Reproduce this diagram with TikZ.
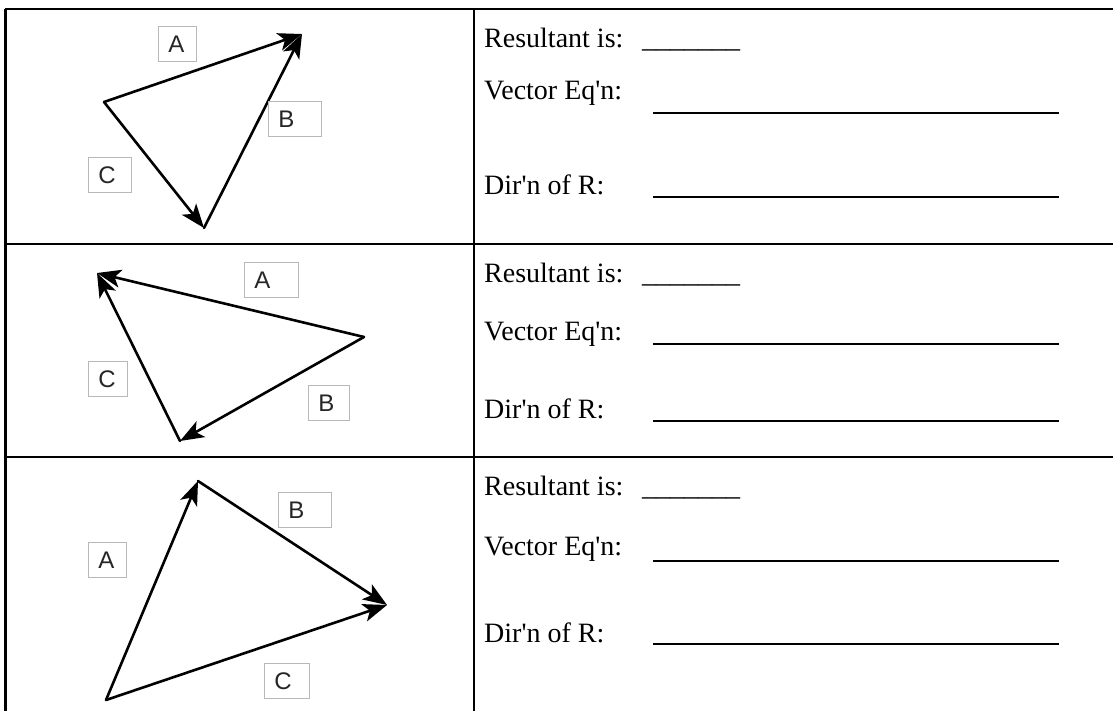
\documentclass[tikz,border=0pt]{standalone}
\usepackage{fontspec}
\newfontfamily\txtfont{Liberation Serif}
\newfontfamily\lblfont{Liberation Sans}
\usetikzlibrary{arrows.meta}
\begin{document}
\begin{tikzpicture}[x=1pt,y=-1pt,
  grid/.style={line width=2.2pt,black},
  vec/.style={line width=2.6pt,line cap=round,-{Stealth[length=24pt,width=18pt,inset=6pt]}},
  lbl/.style={draw=black!28,line width=0.9pt,anchor=north west,inner xsep=10pt,inner ysep=0pt,
    minimum height=35pt,text height=17pt,text depth=0pt,align=left,
    font=\lblfont\fontsize{24}{24}\selectfont,text=black!85},
  txt/.style={anchor=base west,inner sep=0pt,font=\txtfont\fontsize{28}{28}\selectfont},
  ans/.style={line width=2.2pt,black}]
\useasboundingbox (0,0) rectangle (1113,711);
\fill[white] (0,0) rectangle (1113,711);

% table grid
\draw[grid] (5,9) -- (1113,9);
\draw[grid] (5,244) -- (1113,244);
\draw[grid] (5,457) -- (1113,457);
\draw[grid] (5.5,9) -- (5.5,711);
\draw[grid] (474,9) -- (474,711);

% ---------- row 1 ----------
\coordinate (p1) at (104,102);
\coordinate (q1) at (302,34);
\coordinate (r1) at (204,228);
\draw[vec] (p1) -- (q1);
\draw[vec] (r1) -- (q1);
\draw[vec] (p1) -- (r1);
\node[lbl,text width=18pt] (la1) at (158,26) {A};
\node[lbl,text width=33pt] (lb1) at (268,101) {B};
\node[lbl,text width=23pt] (lc1) at (88,157) {C};

% ---------- row 2 ----------
\coordinate (p2) at (364,337);
\coordinate (q2) at (97,273);
\coordinate (r2) at (180,441);
\draw[vec] (p2) -- (q2);
\draw[vec] (p2) -- (r2);
\draw[vec] (r2) -- (q2);
\node[lbl,text width=34pt] (la2) at (244,262) {A};
\node[lbl,text width=19pt] (lc2) at (88,361) {C};
\node[lbl,text width=21pt] (lb2) at (308,385) {B};

% ---------- row 3 ----------
\coordinate (p3) at (106,700);
\coordinate (q3) at (198,481);
\coordinate (r3) at (387,605);
\draw[vec] (p3) -- (q3);
\draw[vec] (q3) -- (r3);
\draw[vec] (p3) -- (r3);
\node[lbl,text width=33pt] (lb3) at (278,492) {B};
\node[lbl,text width=18pt] (la3) at (88,542) {A};
\node[lbl,text width=25pt] (lc3) at (264,663) {C};

% ---------- right column texts ----------
\node[txt] (res1) at (484,48) {\makebox[158pt][l]{Resultant is:}\_\_\_\_\_\_\_};
\node[txt] (veq1) at (484,100) {Vector Eq'n:};
\node[txt] (dir1) at (484,195) {Dir'n of R:};
\coordinate (va1) at (653,113); \coordinate (vb1) at (1059,113);
\coordinate (da1) at (653,197); \coordinate (db1) at (1059,197);
\draw[ans] (va1) -- (vb1);
\draw[ans] (da1) -- (db1);

\node[txt] (res2) at (484,283) {\makebox[158pt][l]{Resultant is:}\_\_\_\_\_\_\_};
\node[txt] (veq2) at (484,340) {Vector Eq'n:};
\node[txt] (dir2) at (484,418) {Dir'n of R:};
\coordinate (va2) at (653,344); \coordinate (vb2) at (1059,344);
\coordinate (da2) at (653,421); \coordinate (db2) at (1059,421);
\draw[ans] (va2) -- (vb2);
\draw[ans] (da2) -- (db2);

\node[txt] (res3) at (484,495) {\makebox[158pt][l]{Resultant is:}\_\_\_\_\_\_\_};
\node[txt] (veq3) at (484,555) {Vector Eq'n:};
\node[txt] (dir3) at (484,642) {Dir'n of R:};
\coordinate (va3) at (653,561); \coordinate (vb3) at (1059,561);
\coordinate (da3) at (653,644); \coordinate (db3) at (1059,644);
\draw[ans] (va3) -- (vb3);
\draw[ans] (da3) -- (db3);
\end{tikzpicture}
\end{document}
